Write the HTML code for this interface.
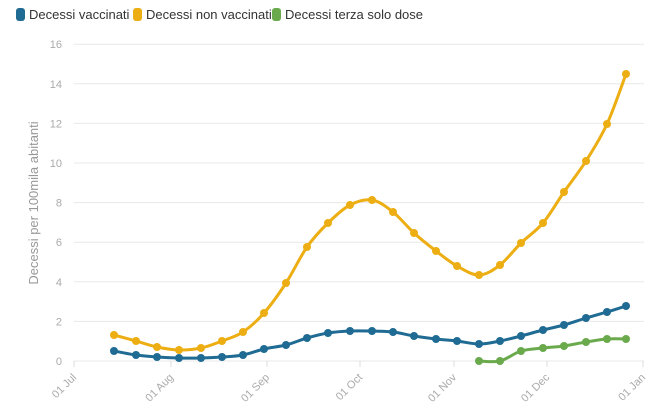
<!DOCTYPE html>
<html><head><meta charset="utf-8"><style>
body{margin:0;background:#fff;width:660px;height:411px;overflow:hidden;font-family:"Liberation Sans",sans-serif}
</style></head><body>
<svg id="s" width="660" height="411" xmlns="http://www.w3.org/2000/svg" font-family="Liberation Sans, sans-serif">
<g font-size="13" fill="#333">
<rect x="16" y="8" width="9" height="13" rx="3" fill="#1f6b93"/><text x="29" y="19">Decessi vaccinati</text>
<rect x="133" y="8" width="9" height="13" rx="3" fill="#ecae12"/><text x="146" y="19">Decessi non vaccinati</text>
<rect x="272" y="8" width="9" height="13" rx="3" fill="#6aaa4c"/><text x="285" y="19">Decessi terza solo dose</text>
</g>
<g id="grid" stroke="#e8e8e8" stroke-width="1"></g>
<g id="yl" font-size="11" fill="#aaa" text-anchor="end"></g>
<text transform="translate(38,203) rotate(-90)" text-anchor="middle" font-size="13" fill="#999">Decessi per 100mila abitanti</text>
<g id="xl" font-size="11" fill="#aaa"></g>
<g id="series"></g>
</svg>
<script>
var ns="http://www.w3.org/2000/svg";
function el(p,t,a,txt){var e=document.createElementNS(ns,t);for(var k in a)e.setAttribute(k,a[k]);if(txt)e.textContent=txt;document.getElementById(p).appendChild(e);}
for(var k=0;k<=8;k++){var y=361-39.6*k;el("grid","line",{x1:74,x2:644,y1:y,y2:y});el("yl","text",{x:62,y:y+4},String(k*2));}
var xt=[[74,"01 Jul"],[171,"01 Aug"],[267,"01 Sep"],[360,"01 Oct"],[454,"01 Nov"],[547,"01 Dec"],[643,"01 Jan"]];
xt.forEach(function(t){el("grid","line",{x1:t[0],x2:t[0],y1:361,y2:367,stroke:"#ddd"});el("xl","text",{x:t[0]+3,y:378,"text-anchor":"end",transform:"rotate(-45 "+(t[0]+3)+" 378)"},t[1]);});
var X=[114,136,157,179,201,222,243,264,286,307,328,350,372,393,414,436,457,479,500,521,543,564,586,607,626];
var Y=[335,341,347,350,348,341,332,313,283,247,223,205,200,212,233,251,266,275,265,243,223,192,161,124,74];
var B=[351,355,357,358,358,357,355,349,345,338,333,331,331,332,336,339,341,344,341,336,330,325,318,312,306];
var G=[361,361,351,348,346,342,339,339];
function path(xs,ys,c){var d="M"+xs[0]+","+ys[0];for(var i=0;i<xs.length-1;i++){var p0=i?i-1:i,p3=i+2<xs.length?i+2:i+1;var c1x=xs[i]+(xs[i+1]-xs[p0])/6,c1y=ys[i]+(ys[i+1]-ys[p0])/6,c2x=xs[i+1]-(xs[p3]-xs[i])/6,c2y=ys[i+1]-(ys[p3]-ys[i])/6;d+=" C"+c1x+","+c1y+" "+c2x+","+c2y+" "+xs[i+1]+","+ys[i+1];}
el("series","path",{d:d,fill:"none",stroke:c,"stroke-width":3});xs.forEach(function(x,i){el("series","circle",{cx:x,cy:ys[i],r:4,fill:c});});}
path(X,Y,"#ecae12");path(X,B,"#1f6b93");path(X.slice(17),G,"#6aaa4c");
</script>
</body></html>
